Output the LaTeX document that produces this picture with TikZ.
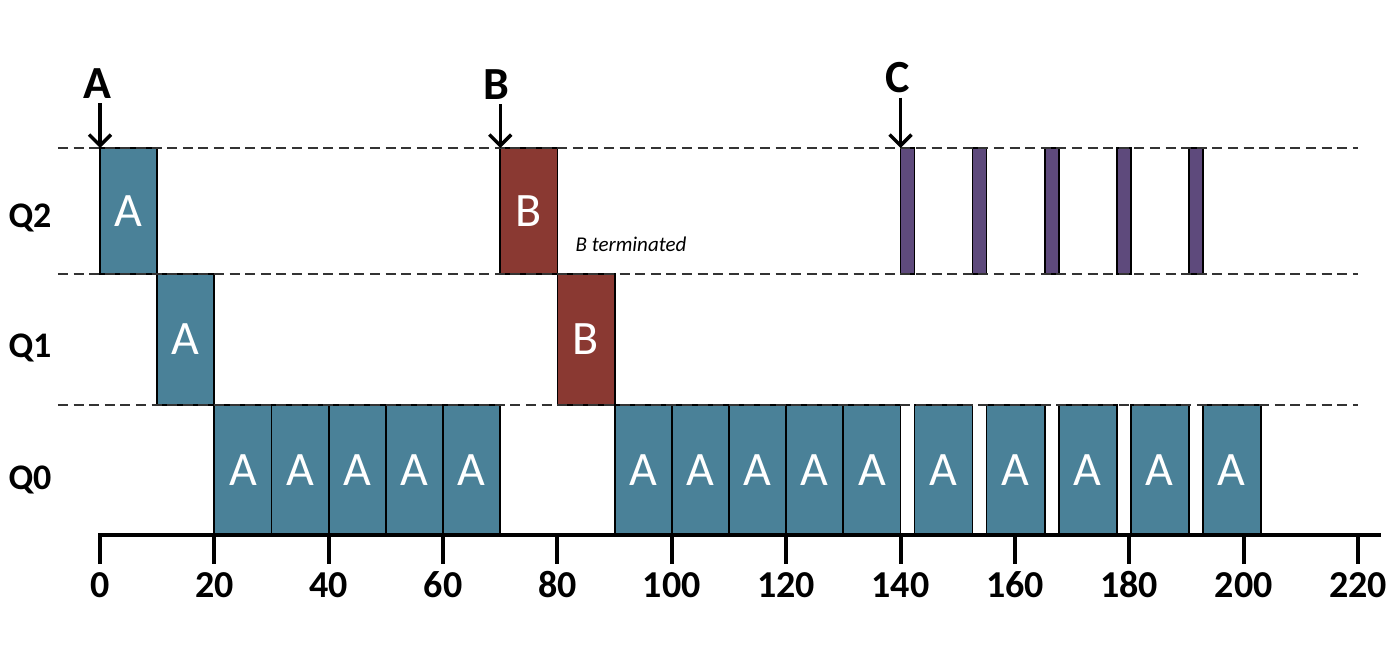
\documentclass[tikz,border=0pt]{standalone}
\usepackage{fontspec}
\setmainfont{Carlito}
\usepackage{xcolor}
\usetikzlibrary{arrows.meta}

\definecolor{jobteal}{RGB}{74,129,152}
\definecolor{jobred}{RGB}{138,57,50}
\definecolor{jobpurple}{RGB}{94,74,124}

\begin{document}
\begin{tikzpicture}[
  x=2.859pt, y=0.5pt,
  job/.style={draw=black, line width=0.9pt, anchor=south west, inner sep=0pt, outer sep=0pt,
    minimum width=#1*2.859pt, text=white, font=\fontsize{24}{24}\selectfont},
  job/.default=10,
  ajob/.style={job=#1, fill=jobteal}, ajob/.default=10,
  bjob/.style={job, fill=jobred},
  cjob/.style={job=2.45, fill=jobpurple},
  row0/.style={minimum height=65pt},
  row1/.style={minimum height=65.5pt},
  row2/.style={minimum height=63pt},
  level/.style={dash pattern=on 5pt off 2.8pt, line width=1.4pt, draw=black!80},
  axis/.style={line width=2pt},
  ticklabel/.style={font=\bfseries\fontsize{19}{19}\selectfont, inner sep=0pt},
  qlabel/.style={font=\bfseries\fontsize{18}{18}\selectfont},
  arrival/.style={font=\bfseries\fontsize{23}{23}\selectfont, inner sep=2pt},
  arr/.style={-{Straight Barb[length=5.5pt,width=11pt]}, line width=1.7pt}
]
\useasboundingbox (-17.49,-131) rectangle (226.65,535);

% queue levels
\node[qlabel] (q2) at (-12.24,317) {Q2};
\node[qlabel] (q1) at (-12.24,187) {Q1};
\node[qlabel] (q0) at (-12.24,55) {Q0};

% job A and B
\node[ajob, row2] (qa2) at (0,261) {A};
\node[ajob, row1] (qa1) at (10,130) {A};
\foreach \t in {20,30,...,60}
  \node[ajob, row0] (qa0-\t) at (\t,0) {A};
\node[bjob, row2] (qb2) at (70,261) {B};
\node[bjob, row1] (qb1) at (80,130) {B};
\foreach \t in {90,100,...,130}
  \node[ajob, row0] (qa0-\t) at (\t,0) {A};
\node[anchor=west, inner sep=0pt, font=\itshape\fontsize{10.5}{10.5}\selectfont] (bterm) at (83.1,291) {B terminated};

% job C shares the cpu with A
\foreach \k in {0,...,4} {
  \node[cjob, row2] (qc2-\k) at (140+12.6*\k,261) {};
  \node[ajob=10.15, row0] (qa0-c\k) at (142.45+12.6*\k,0) {A};
}

% dashed queue borders
\foreach \y in {130,261,387}
  \draw[level] (-7.35,\y) -- (220,\y);

% time axis
\draw[axis] (0,-29) -- (0,0) -- (224,0);
\foreach \t in {20,40,...,220}
  \draw[axis] (\t,0) -- (\t,-29);
\foreach \t in {0,20,...,220}
  \node[ticklabel] (tick\t) at (\t,-50) {\t};

% arrivals
\node[arrival] (arrA) at (-0.52,451) {A};
\node[arrival] (arrB) at (69.4,450) {B};
\node[arrival] (arrC) at (139.56,457) {C};
\draw[arr] (arrA.south -| qa2.north west) -- (qa2.north west);
\draw[arr] (arrB.south -| qb2.north west) -- (qb2.north west);
\draw[arr] (arrC.south -| qc2-0.north west) -- (qc2-0.north west);
\end{tikzpicture}
\end{document}
